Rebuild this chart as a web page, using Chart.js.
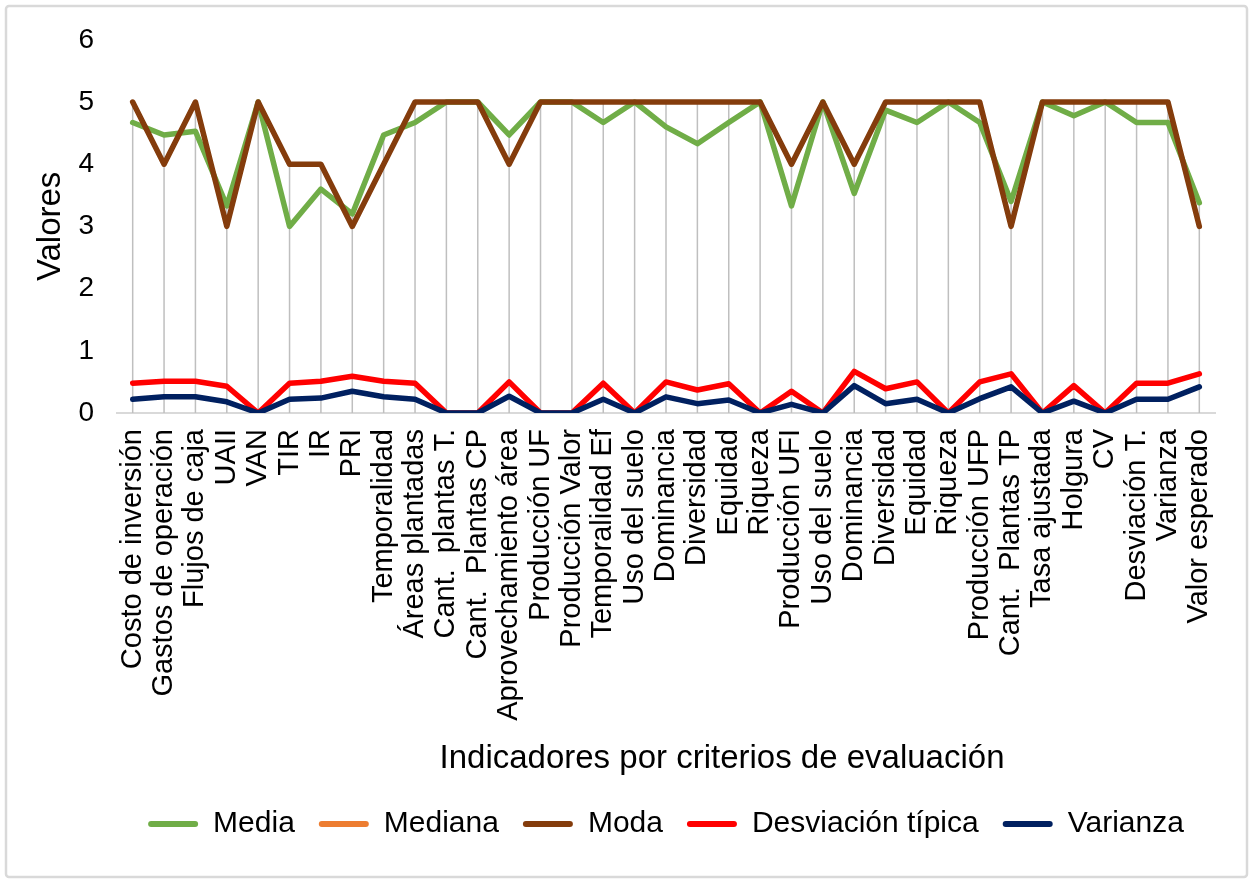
<!DOCTYPE html>
<html>
<head>
<meta charset="utf-8">
<title>Indicadores por criterios de evaluación</title>
<script src="https://cdn.jsdelivr.net/npm/chart.js@4.4.1/dist/chart.umd.min.js"></script>
<style>
  html, body { margin: 0; padding: 0; background: #ffffff; }
  #wrap { width: 1252px; height: 882px; }
</style>
</head>
<body>
<div id="wrap"><canvas id="chart" width="1252" height="882"></canvas></div>
<script>
// Indicadores evaluados, en el orden del eje horizontal
const categories = [
  'Costo de inversión', 'Gastos de operación', 'Flujos de caja', 'UAII', 'VAN',
  'TIR', 'IR', 'PRI', 'Temporalidad', 'Áreas plantadas',
  'Cant.  plantas T.', 'Cant.  Plantas CP', 'Aprovechamiento área', 'Producción UF', 'Producción Valor',
  'Temporalidad Ef', 'Uso del suelo', 'Dominancia', 'Diversidad', 'Equidad',
  'Riqueza', 'Producción UFI', 'Uso del suelo', 'Dominancia', 'Diversidad',
  'Equidad', 'Riqueza', 'Producción UFP', 'Cant.  Plantas TP', 'Tasa ajustada',
  'Holgura', 'CV', 'Desviación T.', 'Varianza', 'Valor esperado'
];

// Estadísticos por indicador
const media = [
  4.67, 4.47, 4.53, 3.33, 5, 3.0, 3.6, 3.2, 4.47, 4.67,
  5, 5, 4.47, 5, 5, 4.67, 5, 4.6, 4.33, 4.67,
  5, 3.33, 5, 3.53, 4.87, 4.67, 5, 4.67, 3.4, 5,
  4.78, 5, 4.67, 4.67, 3.38
];
const mediana = [
  5, 4, 5, 3, 5, 4, 4, 3, 4, 5,
  5, 5, 4, 5, 5, 5, 5, 5, 5, 5,
  5, 4, 5, 4, 5, 5, 5, 5, 3, 5,
  5, 5, 5, 5, 3
];
const moda = [
  5, 4, 5, 3, 5, 4, 4, 3, 4, 5,
  5, 5, 4, 5, 5, 5, 5, 5, 5, 5,
  5, 4, 5, 4, 5, 5, 5, 5, 3, 5,
  5, 5, 5, 5, 3
];
const desviacionTipica = [
  0.48, 0.51, 0.51, 0.43, 0, 0.48, 0.51, 0.59, 0.51, 0.48,
  0, 0, 0.50, 0, 0, 0.48, 0, 0.50, 0.37, 0.47,
  0, 0.35, 0, 0.67, 0.39, 0.50, 0, 0.50, 0.63, 0,
  0.44, 0, 0.48, 0.48, 0.63
];
const varianza = [
  0.22, 0.26, 0.26, 0.18, 0, 0.22, 0.24, 0.35, 0.26, 0.22,
  0, 0, 0.27, 0, 0, 0.22, 0, 0.26, 0.15, 0.21,
  0, 0.14, 0, 0.44, 0.15, 0.22, 0, 0.23, 0.42, 0,
  0.19, 0, 0.22, 0.22, 0.42
];

// Marcas del eje de valores
const yTicks = [0, 1, 2, 3, 4, 5, 6];

// Títulos de los ejes
const xTitle = 'Indicadores por criterios de evaluación';
const yTitle = 'Valores';

const FONT = '"Liberation Sans", Arial, "Helvetica Neue", sans-serif';

// Fondo blanco y marco gris del área del gráfico
const chartFrame = {
  id: 'chartFrame',
  beforeDraw(chart) {
    const { ctx, width, height } = chart;
    ctx.save();
    ctx.fillStyle = '#ffffff';
    ctx.fillRect(0, 0, width, height);
    ctx.strokeStyle = '#d9d9d9';
    ctx.lineWidth = 2.5;
    ctx.beginPath();
    ctx.roundRect(6, 6, width - 11, height - 11, 3);
    ctx.stroke();
    ctx.restore();
  }
};

// Líneas de proyección: desde el valor más alto de cada indicador hasta el eje
const dropLines = {
  id: 'dropLines',
  beforeDatasetsDraw(chart) {
    const { ctx, scales: { x, y } } = chart;
    const base = y.getPixelForValue(0);
    ctx.save();
    ctx.strokeStyle = '#bfbfbf';
    ctx.lineWidth = 1.5;
    categories.forEach((_, i) => {
      let top = 0;
      chart.data.datasets.forEach(ds => { top = Math.max(top, ds.data[i]); });
      const px = x.getPixelForValue(i);
      ctx.beginPath();
      ctx.moveTo(px, y.getPixelForValue(top));
      ctx.lineTo(px, base);
      ctx.stroke();
    });
    ctx.restore();
  }
};

// Título del eje horizontal, desplazado a la derecha del centro del área de trazado
const xAxisCaption = {
  id: 'xAxisCaption',
  afterDraw(chart) {
    const { ctx, chartArea, scales: { x } } = chart;
    ctx.save();
    ctx.font = '33px ' + FONT;
    ctx.fillStyle = '#000000';
    ctx.textAlign = 'center';
    ctx.textBaseline = 'middle';
    ctx.fillText(xTitle, (chartArea.left + chartArea.right) / 2 + 56, x.bottom - 26);
    ctx.restore();
  }
};

function series(label, data, color, width, order) {
  return {
    label, data,
    borderColor: color,
    backgroundColor: color,
    borderWidth: width,
    pointRadius: 0,
    pointHoverRadius: 0,
    tension: 0,
    borderJoinStyle: 'round',
    borderCapStyle: 'round',
    fill: false,
    order
  };
}

new Chart(document.getElementById('chart'), {
  type: 'line',
  data: {
    labels: categories,
    datasets: [
      series('Media', media, '#70ad47', 5.5, 5),
      series('Mediana', mediana, '#ed7d31', 4, 4),
      series('Moda', moda, '#843c0c', 5.5, 3),
      series('Desviación típica', desviacionTipica, '#ff0000', 5.5, 2),
      series('Varianza', varianza, '#002060', 5.5, 1)
    ]
  },
  options: {
    responsive: false,
    animation: false,
    devicePixelRatio: 1,
    layout: { padding: { left: 10, right: 37, top: 38, bottom: 33 } },
    plugins: {
      tooltip: { enabled: false },
      title: { display: false },
      legend: {
        position: 'bottom',
        fullSize: false,
        labels: {
          color: '#000000',
          font: { family: FONT, size: 30 },
          boxWidth: 50,
          boxHeight: 6,
          padding: 24,
          useBorderRadius: true,
          borderRadius: 3,
          sort: (a, b) => a.datasetIndex - b.datasetIndex,
          generateLabels(chart) {
            return Chart.defaults.plugins.legend.labels.generateLabels(chart)
              .map(item => Object.assign(item, { lineWidth: 0, fillStyle: item.strokeStyle }));
          }
        }
      }
    },
    scales: {
      x: {
        type: 'category',
        offset: true,
        grid: { display: false, drawTicks: false },
        border: { display: true, color: '#d9d9d9', width: 2 },
        ticks: {
          autoSkip: false,
          maxRotation: 90,
          minRotation: 90,
          padding: 16,
          color: '#000000',
          font: { family: FONT, size: 29 }
        },
        title: { display: false },
        afterFit(scale) { scale.height = 372; }
      },
      y: {
        min: 0,
        max: 6,
        grid: { display: false, drawTicks: false },
        border: { display: false },
        afterBuildTicks(scale) { scale.ticks = yTicks.map(v => ({ value: v })); },
        ticks: {
          padding: 23,
          color: '#000000',
          font: { family: FONT, size: 28 }
        },
        title: {
          display: true,
          text: yTitle,
          color: '#000000',
          font: { family: FONT, size: 33 },
          padding: { top: 21, bottom: 0 }
        },
        afterFit(scale) { scale.width = 107; }
      }
    }
  },
  plugins: [chartFrame, dropLines, xAxisCaption]
});
</script>
</body>
</html>
